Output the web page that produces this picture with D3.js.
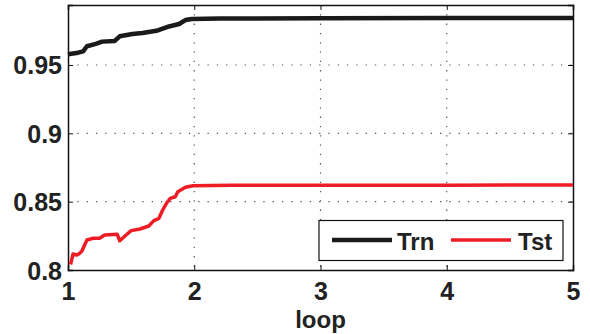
<!DOCTYPE html>
<html>
<head>
<meta charset="utf-8">
<script src="https://cdn.jsdelivr.net/npm/d3@7"></script>
<style>
  body { margin: 0; background: #fff; }
  svg { display: block; font-family: "Liberation Sans", Arial, sans-serif; font-weight: bold; }
</style>
</head>
<body>
<svg class="chart_svg" width="590" height="334"></svg>
<script>
// values
var trnLoop = [1.00, 1.08, 1.12, 1.15, 1.22, 1.27, 1.37, 1.41, 1.51, 1.59, 1.70, 1.80, 1.88, 1.93, 1.98, 2.2, 3.0, 4.0, 5.0];
var trnAcc = [0.9578, 0.9590, 0.9600, 0.9637, 0.9655, 0.9671, 0.9676, 0.9710, 0.9727, 0.9734, 0.9750, 0.9782, 0.9800, 0.9829, 0.9837, 0.9840, 0.9842, 0.9843, 0.9844];
var tstLoop = [1.02, 1.04, 1.07, 1.09, 1.11, 1.15, 1.20, 1.25, 1.29, 1.39, 1.41, 1.46, 1.50, 1.57, 1.64, 1.68, 1.72, 1.75, 1.78, 1.81, 1.85, 1.87, 1.93, 1.99, 2.3, 3.0, 4.0, 5.0];
var tstAcc = [0.8040, 0.8117, 0.8110, 0.8120, 0.8139, 0.8220, 0.8232, 0.8232, 0.8256, 0.8261, 0.8214, 0.8256, 0.8288, 0.8300, 0.8322, 0.8361, 0.8378, 0.8439, 0.8488, 0.8524, 0.8536, 0.8573, 0.8605, 0.8617, 0.8620, 0.8620, 0.8621, 0.8622];
var xTicks = [1, 2, 3, 4, 5];
var yTicks = [0.8, 0.85, 0.9, 0.95];
var yTickLabels = ["0.8", "0.85", "0.9", "0.95"];
var seriesNames = ["Trn", "Tst"];
var seriesColors = ["#1a1a1a", "#ee1d25"];

var svg = d3.select(".chart_svg"),
    margin = {top: 5, right: 17, bottom: 64, left: 68},
    w = 590 - margin.left - margin.right,
    h = 334 - margin.top - margin.bottom;

var x = d3.scaleLinear().domain([1, 5]).range([0, w]);
var y = d3.scaleLinear().domain([0.8, 0.9939]).range([h, 0]);

var g = svg.append("g")
    .attr("transform", "translate(" + margin.left + "," + margin.top + ")");

// dotted grid
g.selectAll(".gx").data(xTicks.slice(1, -1)).enter().append("line")
    .attr("x1", d => x(d)).attr("x2", d => x(d))
    .attr("y1", 0).attr("y2", h)
    .attr("stroke", "#555").attr("stroke-width", 1.2)
    .attr("stroke-dasharray", "1.3,8");
g.selectAll(".gy").data(yTicks.slice(1)).enter().append("line")
    .attr("x1", 0).attr("x2", w)
    .attr("y1", d => y(d)).attr("y2", d => y(d))
    .attr("stroke", "#555").attr("stroke-width", 1.2)
    .attr("stroke-dasharray", "1.3,8");

// inward ticks on all four sides
var axB = g.append("g").attr("transform", "translate(0," + h + ")")
    .call(d3.axisBottom(x).tickValues(xTicks).tickSize(-5).tickPadding(8).tickFormat(d3.format("d")));
var axT = g.append("g")
    .call(d3.axisTop(x).tickValues(xTicks).tickSize(-5).tickFormat(""));
var axL = g.append("g")
    .call(d3.axisLeft(y).tickValues(yTicks).tickSize(-5).tickPadding(6).tickFormat((d, i) => yTickLabels[i]));
var axR = g.append("g").attr("transform", "translate(" + w + ",0)")
    .call(d3.axisRight(y).tickValues(yTicks).tickSize(-5).tickFormat(""));

[axB, axT, axL, axR].forEach(function (a) {
    a.select(".domain").attr("stroke", "#111").attr("stroke-width", 1.5);
    a.selectAll(".tick line").attr("stroke", "#111").attr("stroke-width", 1);
    a.selectAll("text").attr("font-size", 25).attr("font-weight", "bold")
        .attr("font-family", "Liberation Sans, Arial, sans-serif").attr("fill", "#222");
});
axB.selectAll("text").attr("dy", "0.71em").attr("y", 12);
axL.selectAll("text").attr("dy", "0.36em");

// lines
var line = d3.line().x(d => x(d[0])).y(d => y(d[1]));
var trn = trnLoop.map((d, i) => [d, trnAcc[i]]);
var tst = tstLoop.map((d, i) => [d, tstAcc[i]]);

g.append("path").datum(tst).attr("d", line)
    .attr("fill", "none").attr("stroke", seriesColors[1]).attr("stroke-width", 3.5)
    .attr("stroke-linejoin", "round");
g.append("path").datum(trn).attr("d", line)
    .attr("fill", "none").attr("stroke", seriesColors[0]).attr("stroke-width", 4.5)
    .attr("stroke-linejoin", "round");

// x label
svg.append("text")
    .text("loop")
    .attr("x", margin.left + w / 2).attr("y", 328)
    .attr("text-anchor", "middle")
    .attr("font-size", 24).attr("fill", "#222");

// legend
var lg = svg.append("g").attr("transform", "translate(319,220.5)");
lg.append("rect").attr("width", 244).attr("height", 40)
    .attr("fill", "#fff").attr("stroke", "#111").attr("stroke-width", 1.2);
var items = [{sx: 13, tx: 78}, {sx: 132, tx: 199}];
items.forEach(function (it, i) {
    lg.append("line")
        .attr("x1", it.sx).attr("x2", it.sx + 60)
        .attr("y1", 19.5).attr("y2", 19.5)
        .attr("stroke", seriesColors[i]).attr("stroke-width", i == 0 ? 4.5 : 3.5);
    lg.append("text").text(seriesNames[i])
        .attr("x", it.tx).attr("y", 29.5)
        .attr("font-size", 24).attr("fill", "#222");
});
</script>
</body>
</html>
